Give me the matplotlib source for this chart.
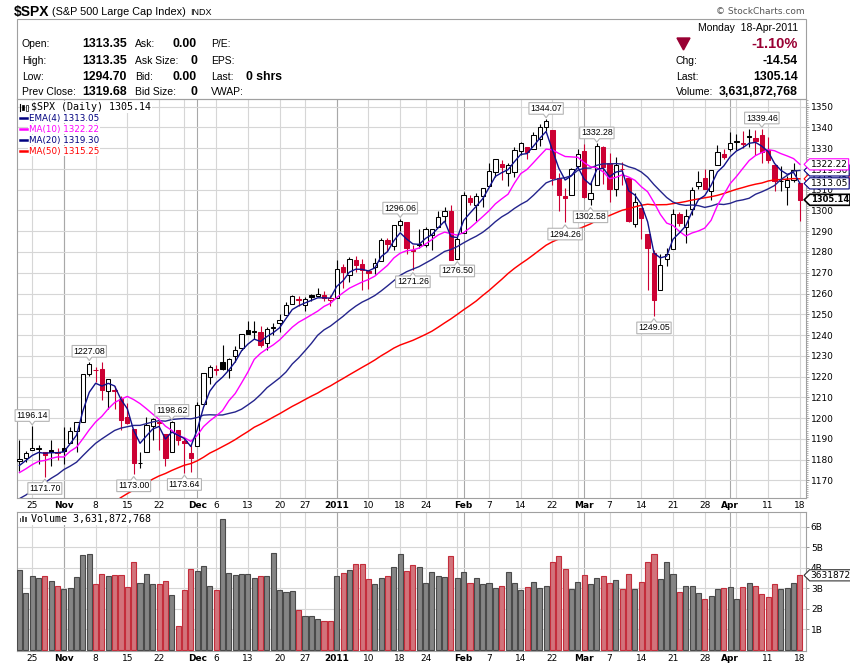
import numpy as np
import pandas as pd
import matplotlib
matplotlib.use('Agg')
import matplotlib.pyplot as plt
from matplotlib.path import Path
from matplotlib.patches import Rectangle, Polygon
from matplotlib.ticker import MultipleLocator
from matplotlib import font_manager

plt.rcParams['font.family'] = ['DejaVu Sans']

W, H = 850, 668

# trading days shown (NYSE closed on these weekdays)
holidays = ['2010-11-25', '2010-12-24', '2011-01-17', '2011-02-21']
dates = pd.bdate_range('2010-10-21', '2011-04-18')
dates = dates[~dates.isin(pd.to_datetime(holidays))]

opens = [1179.56, 1180.63, 1184.74, 1184.88, 1183.84, 1184.47, 1183.87,
         1185.71, 1187.86, 1193.79, 1198.34, 1221.20, 1223.24, 1223.59, 1213.14, 1213.04, 1209.07,
         1200.44, 1194.79, 1178.33, 1183.75, 1196.12, 1198.07, 1192.51, 1183.70, 1194.16, 1189.08, 1182.96,
         1186.60, 1206.81, 1219.93, 1223.87, 1227.25, 1223.24, 1230.14, 1233.85, 1242.52, 1241.84, 1241.58,
         1236.34, 1243.63, 1245.76, 1249.43, 1254.94, 1257.53, 1254.66, 1259.10, 1258.78, 1259.44, 1256.76,
         1257.62, 1272.95, 1268.78, 1276.29, 1274.41, 1270.84, 1272.58, 1275.65, 1285.78, 1282.90,
         1293.22, 1294.52, 1280.85, 1283.63, 1283.29, 1288.17, 1291.97, 1297.51, 1299.63, 1276.50,
         1289.14, 1305.91, 1302.77, 1307.01, 1311.85, 1318.76, 1322.48, 1318.13, 1318.66, 1328.73,
         1330.43, 1329.51, 1334.37, 1340.38, 1338.91, 1315.44, 1307.09, 1307.34, 1321.61,
         1328.64, 1305.47, 1312.37, 1330.73, 1322.72, 1310.37, 1319.92, 1315.72, 1293.43, 1301.19,
         1288.46, 1279.46, 1261.61, 1276.71, 1281.65, 1298.29, 1292.19, 1300.61, 1311.80, 1315.45,
         1309.37, 1321.89, 1327.44,
         1329.48, 1333.56, 1332.03, 1335.94, 1334.82, 1336.16, 1329.01, 1321.96, 1314.03, 1311.13,
         1314.54, 1313.35]
highs = [1189.43, 1183.93, 1196.14, 1187.11, 1183.84, 1189.53, 1185.46,
         1195.81, 1195.88, 1198.30, 1221.25, 1227.08, 1224.57, 1226.84, 1218.75, 1215.45, 1210.50,
         1207.43, 1194.79, 1183.56, 1200.29, 1199.97, 1198.94, 1192.51, 1198.62, 1194.16, 1190.34, 1187.40,
         1207.61, 1221.89, 1225.57, 1225.80, 1235.05, 1228.93, 1234.71, 1240.40, 1246.73, 1246.59, 1244.25,
         1243.75, 1245.81, 1250.20, 1255.82, 1259.39, 1258.59, 1258.43, 1259.90, 1262.60, 1261.09, 1259.34,
         1276.17, 1274.12, 1277.63, 1278.17, 1276.83, 1271.52, 1277.25, 1286.87, 1286.70, 1293.24,
         1296.06, 1294.60, 1283.35, 1291.21, 1291.93, 1291.26, 1299.74, 1301.63, 1302.67, 1287.17,
         1308.86, 1307.61, 1308.60, 1311.00, 1322.85, 1324.87, 1324.54, 1322.76, 1330.79, 1332.96,
         1330.43, 1337.61, 1341.50, 1344.07, 1338.91, 1317.91, 1310.91, 1320.61, 1329.38,
         1332.09, 1314.19, 1332.28, 1331.08, 1327.68, 1325.74, 1323.21, 1315.72, 1308.35, 1301.19,
         1288.46, 1280.91, 1278.88, 1282.11, 1300.58, 1299.35, 1300.51, 1311.34, 1319.18, 1319.74,
         1319.45, 1331.74, 1329.77,
         1337.85, 1336.74, 1338.21, 1339.38, 1338.80, 1339.46, 1335.19, 1321.96, 1321.35, 1316.79,
         1322.88, 1313.35]
lows = [1174.50, 1178.99, 1184.74, 1177.72, 1171.70, 1177.10, 1179.70,
        1177.65, 1187.86, 1183.56, 1198.34, 1220.29, 1217.55, 1208.94, 1204.33, 1204.49, 1194.08,
        1197.15, 1173.00, 1175.82, 1183.75, 1189.44, 1184.58, 1176.91, 1183.70, 1186.93, 1173.64, 1174.14,
        1186.60, 1206.81, 1216.60, 1220.67, 1223.25, 1219.50, 1226.85, 1232.57, 1240.34, 1238.17, 1234.01,
        1232.85, 1239.87, 1241.51, 1249.43, 1254.94, 1254.05, 1251.48, 1256.22, 1258.78, 1256.32, 1254.19,
        1257.62, 1262.66, 1265.36, 1270.43, 1261.70, 1262.18, 1269.62, 1275.65, 1280.47, 1281.07,
        1290.16, 1278.92, 1271.26, 1282.07, 1282.47, 1281.07, 1291.97, 1294.42, 1277.10, 1276.50,
        1289.14, 1302.42, 1294.83, 1301.67, 1311.85, 1316.03, 1314.89, 1311.74, 1316.08, 1326.90,
        1324.61, 1329.51, 1331.00, 1338.12, 1312.33, 1299.55, 1294.26, 1307.34, 1320.55,
        1306.14, 1302.58, 1312.37, 1312.59, 1303.99, 1306.86, 1312.27, 1294.21, 1291.99, 1286.37,
        1261.82, 1249.05, 1261.61, 1273.32, 1281.65, 1292.70, 1284.38, 1297.74, 1310.15, 1310.19,
        1305.26, 1321.89, 1325.03,
        1328.89, 1329.10, 1330.03, 1330.66, 1326.56, 1322.94, 1322.66, 1309.51, 1309.19, 1302.42,
        1313.68, 1294.70]
closes = [1180.26, 1183.08, 1185.62, 1185.64, 1182.45, 1183.78, 1183.26,
          1184.38, 1193.57, 1197.96, 1221.06, 1225.85, 1223.25, 1213.40, 1218.71, 1213.54, 1199.21,
          1197.75, 1178.34, 1178.59, 1196.69, 1199.73, 1197.84, 1180.73, 1198.35, 1189.40, 1187.76, 1180.55,
          1206.07, 1221.53, 1224.71, 1223.12, 1223.75, 1228.28, 1233.00, 1240.40, 1240.46, 1241.59, 1235.23,
          1242.87, 1243.91, 1247.08, 1254.60, 1258.84, 1256.77, 1257.54, 1258.51, 1259.78, 1257.88, 1257.64,
          1271.87, 1270.20, 1276.56, 1273.85, 1271.50, 1269.75, 1274.48, 1285.96, 1283.76, 1293.24,
          1295.02, 1281.92, 1280.26, 1283.35, 1290.84, 1291.18, 1296.63, 1299.54, 1276.34, 1286.12,
          1307.59, 1304.03, 1307.10, 1310.87, 1319.05, 1324.57, 1320.88, 1321.87, 1329.15, 1332.32,
          1328.01, 1336.32, 1340.43, 1343.01, 1315.44, 1307.40, 1306.10, 1319.88, 1327.22,
          1306.33, 1308.44, 1330.97, 1321.15, 1310.13, 1321.82, 1320.02, 1295.11, 1304.28, 1296.39,
          1281.87, 1256.88, 1273.72, 1279.20, 1298.38, 1293.77, 1297.54, 1309.66, 1313.80, 1310.19,
          1319.44, 1328.26, 1325.83,
          1332.41, 1332.87, 1332.63, 1335.54, 1333.51, 1328.17, 1324.46, 1314.16, 1314.41, 1314.52,
          1319.68, 1305.14]
# volume in billions of shares
volume_b = [3.88, 2.75, 3.62, 3.48, 3.58, 3.35, 3.09,
            2.94, 2.99, 3.54, 4.61, 4.66, 3.19, 3.69, 3.58, 3.67, 3.64,
            3.04, 4.27, 3.25, 3.69, 3.19, 3.19, 3.35, 2.67, 1.17, 2.91, 3.93,
            3.83, 4.11, 3.11, 2.91, 6.36, 3.74, 3.64, 3.69, 3.72, 3.50, 3.62,
            3.59, 4.74, 2.91, 2.82, 2.86, 1.94, 1.65, 1.65, 1.50, 1.39, 1.39,
            3.59, 3.74, 3.88, 4.17, 4.17, 3.45, 3.20, 3.50, 3.58, 4.03,
            4.66, 3.83, 4.13, 4.03, 3.28, 3.79, 3.62, 3.53, 4.55, 3.48,
            3.77, 3.24, 3.48, 3.19, 3.24, 2.99, 3.12, 3.77, 3.28, 2.90,
            3.04, 3.33, 2.99, 3.09, 4.30, 4.55, 3.92, 2.94, 3.33,
            3.67, 3.19, 3.48, 3.62, 3.28, 3.38, 2.94, 3.72, 2.94, 3.33,
            4.26, 4.69, 3.43, 4.30, 3.72, 2.80, 3.09, 3.09, 2.75, 2.46,
            2.61, 2.94, 2.99,
            3.04, 2.46, 3.04, 3.28, 3.09, 2.70, 2.56, 3.19, 2.94, 2.99,
            3.24, 3.63]
last_volume = 3631872768

# closes from Aug 2 to Oct 20 2010, only used to warm up the averages
prior_closes = [1125.86, 1120.46, 1127.24, 1125.81, 1121.64, 1127.79, 1121.06, 1089.47, 1083.61,
                1079.25, 1079.38, 1092.54, 1094.16, 1075.63, 1071.69, 1067.36, 1051.87, 1055.33,
                1047.22, 1064.59, 1048.92, 1049.33,
                1080.29, 1090.10, 1104.51, 1091.84, 1098.87, 1104.18, 1109.55, 1121.90, 1121.10,
                1125.07, 1124.66, 1125.59, 1142.71, 1139.78, 1134.28, 1124.83, 1148.67, 1142.16,
                1147.70, 1144.73, 1141.20,
                1146.24, 1137.03, 1160.75, 1159.97, 1158.06, 1165.15, 1165.32, 1169.77, 1178.10,
                1173.81, 1176.19, 1184.71, 1165.90, 1178.17]

high_marks = ['2010-10-25', '2010-11-05', '2010-11-24', '2011-01-18', '2011-02-18', '2011-03-03', '2011-04-08']
low_marks = ['2010-10-27', '2010-11-16', '2010-11-29', '2011-01-20', '2011-01-31', '2011-02-24', '2011-03-02', '2011-03-16']

tick_days = ['2010-10-25', '2010-11-01', '2010-11-08', '2010-11-15', '2010-11-22', '2010-12-01',
             '2010-12-06', '2010-12-13', '2010-12-20', '2010-12-27', '2011-01-03', '2011-01-10',
             '2011-01-18', '2011-01-24', '2011-02-01', '2011-02-07', '2011-02-14', '2011-02-22',
             '2011-03-01', '2011-03-07', '2011-03-14', '2011-03-21', '2011-03-28', '2011-04-01',
             '2011-04-11', '2011-04-18']
tick_text = ['25', 'Nov', '8', '15', '22', 'Dec', '6', '13', '20', '27', '2011', '10', '18', '24',
             'Feb', '7', '14', '22', 'Mar', '7', '14', '21', '28', 'Apr', '11', '18']
bold_ticks = {'Nov', 'Dec', '2011', 'Feb', 'Mar', 'Apr'}

# ---- derived series ----
o = np.array(opens); h = np.array(highs); l = np.array(lows); c = np.array(closes)
x = np.arange(len(dates))
allc = pd.Series(prior_closes + closes)
n0 = len(prior_closes)
ema4 = allc.ewm(span=4, adjust=False).mean().values[n0:]
ma10 = allc.rolling(10).mean().values[n0:]
ma20 = allc.rolling(20).mean().values[n0:]
ma50 = allc.rolling(50).mean().values[n0:]

prev = np.r_[prior_closes[-1], c[:-1]]
RED = '#cc0033'
up = c >= prev
col = np.where(up, 'black', RED)
face = np.where(c > o, 'white', col)

wk = dates.isocalendar().week.values
week_idx = [i for i in range(1, len(dates)) if wk[i] != wk[i - 1]]
month_idx = [i for i in range(1, len(dates)) if dates[i].month != dates[i - 1].month]
pos = {d: i for i, d in enumerate(dates.strftime('%Y-%m-%d'))}

installed = {f.name for f in font_manager.fontManager.ttflist}
NARROW = 'Liberation Sans Narrow' if 'Liberation Sans Narrow' in installed else 'Liberation Sans'
HEAD = 'Liberation Sans'

NAVY = '#000080'
MAG = '#ff00ff'
MRED = '#ff0000'
SPINE = '#a0a0a0'


def callout(point_down):
    def style(x0, y0, width, height, mutation_size):
        pad = 0.15 * mutation_size
        x0, y0 = x0 - pad, y0 - pad
        x1, y1 = x0 + width + 2 * pad, y0 + height + 2 * pad
        cx = (x0 + x1) / 2
        n, d = 0.3 * mutation_size, 0.4 * mutation_size
        if point_down:
            v = [(x0, y0), (cx - n, y0), (cx, y0 - d), (cx + n, y0), (x1, y0), (x1, y1), (x0, y1), (x0, y0)]
        else:
            v = [(x0, y0), (x1, y0), (x1, y1), (cx + n, y1), (cx, y1 + d), (cx - n, y1), (x0, y1), (x0, y0)]
        return Path(v, closed=True)
    return style


def tag_box(x0, y0, width, height, mutation_size):
    pad = 0.12 * mutation_size
    x0, y0 = x0 - pad, y0 - pad
    x1, y1 = x0 + width + 2 * pad, y0 + height + 2 * pad
    ym = (y0 + y1) / 2
    t = (y1 - y0) / 2
    v = [(x0 - t, ym), (x0, y0), (x1, y0), (x1, y1), (x0, y1), (x0 - t, ym)]
    return Path(v, closed=True)


fig = plt.figure(figsize=(W / 100, H / 100), dpi=100)
fig.patch.set_facecolor('white')


def fp(px, py):
    return px / W, 1 - py / H


ax = fig.add_axes([17 / W, 1 - 498 / H, 789 / W, 399 / H])
axv = fig.add_axes([17 / W, 1 - 651 / H, 789 / W, 139 / H])

# ---- header ----
fig.patches.append(Rectangle(fp(17, 99), 789 / W, 80 / H, transform=fig.transFigure,
                             fill=False, ec=SPINE, lw=0.8))
fig.text(*fp(14, 12), '$SPX', family=HEAD, fontsize=10, fontweight='bold', va='center')
fig.text(*fp(52, 12), '(S&P 500 Large Cap Index)', family=HEAD, fontsize=7.8, va='center')
fig.text(*fp(190, 12.5), 'INDX', family=HEAD, fontsize=6.5, va='center')
fig.text(*fp(805, 12), '\u00a9 StockCharts.com', family='DejaVu Sans', fontsize=6.5, color='#555555',
         ha='right', va='center')

rows_y = [44, 60.5, 76.5, 92]
for y, a, b in zip(rows_y, ['Open:', 'High:', 'Low:', 'Prev Close:'], [opens[-1], highs[-1], lows[-1], prev[-1]]):
    fig.text(*fp(22, y), a, family=HEAD, fontsize=7.5, va='center')
    fig.text(*fp(127, y), f'{b:.2f}', family=HEAD, fontsize=8.8, fontweight='bold', ha='right', va='center')
for y, a, b in zip(rows_y, ['Ask:', 'Ask Size:', 'Bid:', 'Bid Size:'], ['0.00', '0', '0.00', '0']):
    fig.text(*fp(135, y), a, family=HEAD, fontsize=7.5, va='center')
    fig.text(*fp(197, y), b, family=HEAD, fontsize=8.8, fontweight='bold', ha='right', va='center')
for y, a in zip(rows_y, ['P/E:', 'EPS:', 'Last:', 'VWAP:']):
    fig.text(*fp(211, y), a, family=HEAD, fontsize=7.5, va='center')
fig.text(*fp(246, rows_y[2]), '0 shrs', family=HEAD, fontsize=8.8, fontweight='bold', va='center')

chg = c[-1] - prev[-1]
fig.text(*fp(798, 28), 'Monday  18-Apr-2011', family=HEAD, fontsize=7.5, ha='right', va='center')
fig.patches.append(Polygon([fp(677, 38), fp(690, 38), fp(683.5, 50)], closed=True,
                           transform=fig.transFigure, color='#990033'))
fig.text(*fp(798, 44), f'{chg / prev[-1] * 100:.2f}%', family=HEAD, fontsize=10.5, fontweight='bold',
         color='#990033', ha='right', va='center')
for y, a, b in zip(rows_y[1:], ['Chg:', 'Last:', 'Volume:'], [f'{chg:.2f}', f'{c[-1]:.2f}', f'{last_volume:,}']):
    fig.text(*fp(676, y), a, family=HEAD, fontsize=7.5, va='center')
    fig.text(*fp(798, y), b, family=HEAD, fontsize=8.8, fontweight='bold', ha='right', va='center')

# ---- grids and frames ----
for a in (ax, axv):
    for i in week_idx:
        a.axvline(i, color='#d6d6d6', lw=0.8, zorder=0)
    for i in month_idx:
        a.axvline(i, color='#a8a8a8', lw=0.8, zorder=0)
    a.set_xlim(-0.39, 123.96)
    for s in a.spines.values():
        s.set_color(SPINE)
        s.set_linewidth(0.8)
    a.set_xticks([pos[d] for d in tick_days])
    a.set_xticklabels(tick_text)
    a.tick_params(axis='x', length=0, pad=2, labelsize=6.5)
    for t in a.get_xticklabels():
        if t.get_text() in bold_ticks:
            t.set_fontweight('bold')
    a.yaxis.tick_right()
    a.tick_params(axis='y', which='major', direction='out', length=2.5, width=0.6, color='#808080',
                  pad=1, labelsize=6.5)
    a.set_axisbelow(True)

# ---- price panel ----
ax.set_ylim(1161.5, 1353.7)
ax.set_yticks(np.arange(1170, 1351, 10))
ax.yaxis.set_minor_locator(MultipleLocator(1))
ax.tick_params(axis='y', which='minor', direction='out', length=1.2, width=0.5, color='#909090')
ax.grid(axis='y', color='#d6d6d6', lw=0.8)

ax.vlines(x, l, h, colors=col, lw=0.8, zorder=3)
ax.bar(x, np.abs(c - o), bottom=np.minimum(o, c), width=0.68, color=face, edgecolor=col,
       linewidth=0.75, zorder=4)

ax.plot(x, ma50, color=MRED, lw=1.05, zorder=5)
ax.plot(x, ma20, color='#24248c', lw=1.0, zorder=5)
ax.plot(x, ma10, color=MAG, lw=1.0, zorder=5)
ax.plot(x, ema4, color='#10108a', lw=1.0, zorder=5)

for d in high_marks:
    i = pos[d]
    ax.annotate(f'{h[i]:.2f}', xy=(i, h[i]), xytext=(0, 7.6), textcoords='offset points',
                ha='center', va='center', fontsize=6.3, family=NARROW, zorder=8,
                bbox=dict(boxstyle=callout(True), fc='white', ec='#b4b4b4', lw=0.8))
for d in low_marks:
    i = pos[d]
    ax.annotate(f'{l[i]:.2f}', xy=(i, l[i]), xytext=(0, -8.4), textcoords='offset points',
                ha='center', va='center', fontsize=6.3, family=NARROW, zorder=8, annotation_clip=False,
                bbox=dict(boxstyle=callout(False), fc='white', ec='#b4b4b4', lw=0.8))

tags = [(ma50, MRED, 'normal', 0.8, 6.5), (ma20, NAVY, 'normal', 0.8, 6.5), (ma10, MAG, 'normal', 0.8, 6.5),
        (ema4, NAVY, 'normal', 0.8, 6.5), (c, 'black', 'bold', 1.2, 6.0)]
for z, (s, cc, fw, lw, fs) in enumerate(tags):
    ax.annotate(f'{s[-1]:.2f}', xy=(1, s[-1]), xycoords=('axes fraction', 'data'), xytext=(3.4, 0),
                textcoords='offset points', ha='left', va='center', fontsize=fs, fontweight=fw,
                color='black', annotation_clip=False, zorder=20 + z,
                bbox=dict(boxstyle=tag_box, fc='white', ec=cc, lw=lw))


def axf(px, py, top, hgt):
    return (px - 17) / 789, 1 - (py - top) / hgt


# legend block
bb = dict(fc='white', ec='none', pad=0.6)
ax.plot(*zip(axf(20, 103.5, 99, 399), axf(20, 110.5, 99, 399)), color='black', lw=0.8,
        transform=ax.transAxes, clip_on=False, zorder=9)
ax.add_patch(Rectangle(axf(21.5, 109.5, 99, 399), 2.5 / 789, 5 / 399, transform=ax.transAxes,
                       fc='black', ec='black', lw=0.5, zorder=9))
ax.add_patch(Rectangle(axf(25.5, 110.5, 99, 399), 2.5 / 789, 6 / 399, transform=ax.transAxes,
                       fc='white', ec='black', lw=0.5, zorder=9))
ax.text(*axf(31, 107, 99, 399), f'$SPX (Daily) {c[-1]:.2f}', transform=ax.transAxes, family='DejaVu Sans Mono',
        fontsize=7.2, va='center', ha='left', bbox=bb, zorder=9)
leg = [('EMA(4)', ema4, NAVY), ('MA(10)', ma10, MAG), ('MA(20)', ma20, NAVY), ('MA(50)', ma50, MRED)]
for k, (name, s, cc) in enumerate(leg):
    y = 118 + 11 * k
    ax.text(*axf(29, y, 99, 399), f'{name} {s[-1]:.2f}', transform=ax.transAxes, fontsize=6.3,
            color=cc, va='center', ha='left', bbox=bb, zorder=9)
    ax.plot(*zip(axf(19.5, y, 99, 399), axf(27, y, 99, 399)), color=cc, lw=1.8,
            transform=ax.transAxes, clip_on=False, zorder=10)

# ---- volume panel ----
axv.set_ylim(-0.06, 6.72)
axv.set_yticks(range(1, 7))
axv.set_yticklabels([f'{k}B' for k in range(1, 7)])
axv.grid(axis='y', color='#d6d6d6', lw=0.8)
vfill = np.where(up, '#858585', '#d2737b')
vedge = np.where(up, '#4a4a4a', '#c42d3b')
axv.bar(x, volume_b, width=0.8, color=vfill, edgecolor=vedge, linewidth=0.8, zorder=3)

for k, hh in enumerate([4, 6, 5]):
    axv.add_patch(Rectangle(axf(19.5 + 2.6 * k, 522, 512, 139), 1.8 / 789, hh / 139,
                            transform=axv.transAxes, fc='#555555', ec='none', zorder=9))
axv.text(*axf(31, 519, 512, 139), f'Volume {last_volume:,}', transform=axv.transAxes,
         family='DejaVu Sans Mono', fontsize=7.2, va='center', ha='left', bbox=bb, zorder=9)
axv.annotate(str(last_volume), xy=(1, last_volume / 1e9), xycoords=('axes fraction', 'data'),
             xytext=(3.4, 0), textcoords='offset points', ha='left', va='center', fontsize=6.5,
             annotation_clip=False, zorder=20,
             bbox=dict(boxstyle=tag_box, fc='white', ec='#333333', lw=0.8))

fig.savefig('out.png', dpi=100)
